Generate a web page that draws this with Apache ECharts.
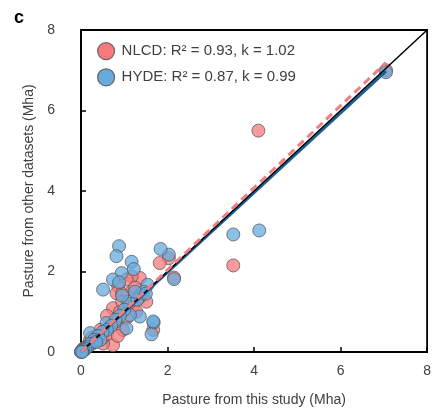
<!DOCTYPE html>
<html><head><meta charset="utf-8">
<script src="https://cdn.jsdelivr.net/npm/echarts@6/dist/echarts.min.js"></script>
<style>html,body{margin:0;padding:0;background:#fff}#c{width:434px;height:415px}</style>
</head><body><div id="c"></div>
<script>
// x = this study (Mha), y = other dataset (Mha)
var nlcdPoints = [[7.05,7.0],[4.1,5.5],[3.52,2.15],[2.15,1.85],[2.03,2.33],[1.82,2.21],[1.67,0.55],[1.36,1.84],[1.17,1.88],[1.05,1.8],[0.86,1.63],[0.82,1.46],[1.17,1.5],[0.95,1.45],[1.25,1.6],[1.51,1.25],[1.35,1.35],[1.2,1.15],[0.74,1.09],[0.9,1.0],[1.05,0.84],[1.28,1.0],[0.97,0.55],[0.74,0.17],[0.51,0.21],[0.21,0.3],[0.6,0.9],[0.45,0.55],[0.8,0.75],[0.65,0.6],[0.35,0.4],[0.3,0.25],[0.15,0.15],[0.1,0.12],[0.05,0.08],[0.02,0.03],[0.0,0.0],[0.08,0.05],[0.5,0.35],[1.1,1.2],[0.95,1.25],[1.4,1.45],[0.25,0.35],[0.6,0.45],[0.85,0.4]];
var hydePoints = [[7.05,6.95],[4.12,3.02],[3.52,2.92],[2.15,1.81],[2.03,2.42],[1.84,2.56],[1.68,0.73],[1.63,0.44],[1.36,0.88],[1.54,1.67],[0.88,2.63],[0.82,2.38],[1.17,2.24],[1.22,2.06],[0.94,1.96],[0.74,1.8],[0.88,1.73],[0.51,1.55],[1.09,1.25],[1.13,0.92],[1.05,0.59],[1.67,0.76],[0.59,0.72],[0.21,0.47],[1.45,1.5],[1.3,1.3],[1.0,1.05],[0.9,0.9],[0.8,0.8],[0.7,0.65],[0.6,0.55],[0.5,0.5],[0.4,0.4],[0.3,0.3],[0.25,0.2],[0.2,0.2],[0.15,0.12],[0.1,0.08],[0.05,0.05],[0.02,0.02],[0.0,0.01],[0.03,0.0],[0.45,0.3],[0.35,0.25],[1.25,1.5],[1.5,1.45],[0.95,1.4]];
var seriesNames = ['NLCD: R\u00b2 = 0.93, k = 1.02', 'HYDE: R\u00b2 = 0.87, k = 0.99'];
var fitSlopes = [1.02, 0.99];
var fitRange = [0, 7.05];
var oneToOne = [[0,0],[8,8]];
var axisTicks = [0, 2, 4, 6, 8];

var font = 'Liberation Sans, Arial, sans-serif';
var red = '#f7797c', blue = '#67abdd';
function fitLine(k){ return fitRange.map(function(x){ return [x, x*k]; }); }

var chart = echarts.init(document.getElementById('c'), null, {renderer:'canvas'});
chart.setOption({
  animation: false,
  backgroundColor: '#fff',
  title: {text:'c', left: 9, top: 4, textStyle:{fontFamily:font, fontWeight:'bold', fontSize:18, color:'#000'}},
  grid: {left: 81, right: 6, top: 30, bottom: 63, show: true, borderColor:'#000', borderWidth:1.8, backgroundColor:'transparent'},
  legend: {
    left: 92, top: 37, orient: 'vertical', itemGap: 8, itemWidth: 17, itemHeight: 17,
    data: [
      {name: seriesNames[0], icon:'circle', itemStyle:{color:red, opacity:1, borderColor:'#666', borderWidth:1.2}},
      {name: seriesNames[1], icon:'circle', itemStyle:{color:blue, opacity:1, borderColor:'#666', borderWidth:1.2}}
    ],
    textStyle: {fontFamily:font, fontSize:15, color:'#404040', padding:[0,0,0,2]}
  },
  xAxis: {
    type:'value', min:0, max:8, interval:2,
    name:'Pasture from this study (Mha)', nameLocation:'middle', nameGap:41,
    nameTextStyle:{fontFamily:font, fontSize:14, color:'#404040'},
    axisLine:{show:true, lineStyle:{color:'#000', width:1.8}},
    axisTick:{show:true, inside:true, length:5, lineStyle:{color:'#000', width:1.5}},
    axisLabel:{fontFamily:font, fontSize:14, color:'#404040', margin:12},
    splitLine:{show:false}
  },
  yAxis: {
    type:'value', min:0, max:8, interval:2,
    name:'Pasture from other datasets (Mha)', nameLocation:'middle', nameGap:44,
    nameTextStyle:{fontFamily:font, fontSize:14, color:'#404040'},
    axisLine:{show:true, lineStyle:{color:'#000', width:1.8}},
    axisTick:{show:true, inside:true, length:5, lineStyle:{color:'#000', width:1.5}},
    axisLabel:{fontFamily:font, fontSize:14, color:'#404040', margin:26},
    splitLine:{show:false}
  },
  series: [
    {name: seriesNames[0], type:'scatter', data: nlcdPoints, symbolSize: 13, z: 2,
     itemStyle:{color:red, opacity:0.75, borderColor:'#555', borderWidth:1}},
    {name: seriesNames[1], type:'scatter', data: hydePoints, symbolSize: 13, z: 3,
     itemStyle:{color:blue, opacity:0.75, borderColor:'#555', borderWidth:1}},
    {name:'hydeFit', type:'line', data: fitLine(fitSlopes[1]), showSymbol:false, symbol:'none', z:4,
     lineStyle:{color:'#1d5f94', width:3}},
    {name:'oneToOne', type:'line', data: oneToOne, showSymbol:false, symbol:'none', z:5,
     lineStyle:{color:'#000', width:1.5}},
    {name:'nlcdFit', type:'line', data: fitLine(fitSlopes[0]), showSymbol:false, symbol:'none', z:6,
     lineStyle:{color:'#f47d80', width:3, type:[8,5]}}
  ]
});
</script>
</body></html>
